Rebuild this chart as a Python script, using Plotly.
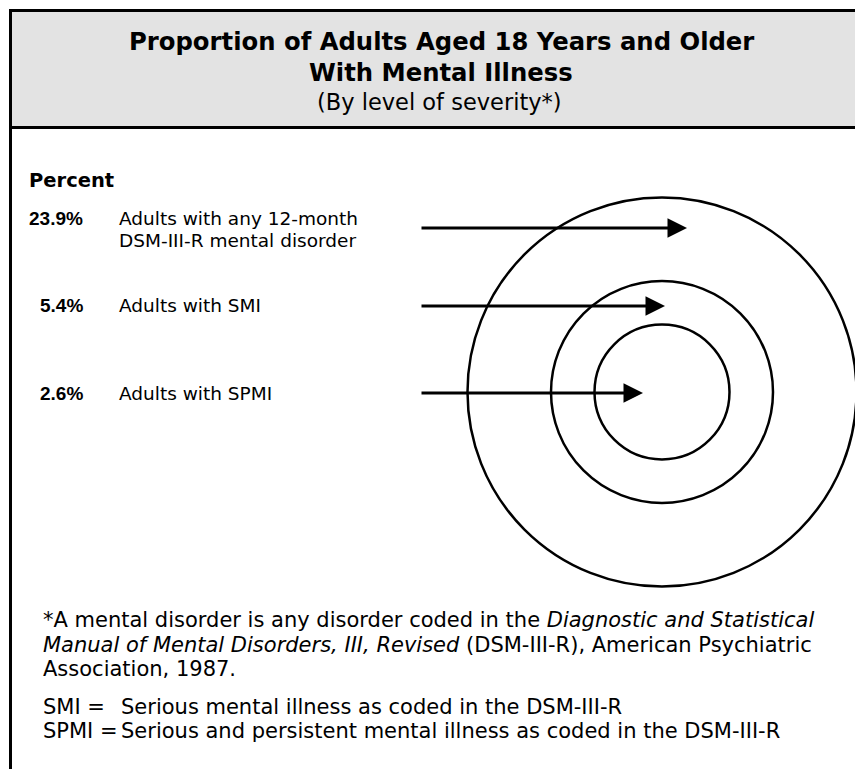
import plotly.graph_objects as go

# ---- data ----
title_lines = ["Proportion of Adults Aged 18 Years and Older", "With Mental Illness"]
subtitle = "(By level of severity*)"
percent_values = [23.9, 5.4, 2.6]
group_labels = [["Adults with any 12-month", "DSM-III-R mental disorder"],
                ["Adults with SMI"],
                ["Adults with SPMI"]]
footnote_lines = [
    "*A mental disorder is any disorder coded in the <i>Diagnostic and Statistical</i>",
    "<i>Manual of Mental Disorders, III, Revised</i> (DSM-III-R), American Psychiatric",
    "Association, 1987.",
]
abbrev_keys = ["SMI =", "SPMI ="]
abbrev_defs = ["Serious mental illness as coded in the DSM-III-R",
               "Serious and persistent mental illness as coded in the DSM-III-R"]

# ---- layout constants (page pixel coordinates) ----
PAGE_W, PAGE_H = 863, 769
OFF = 8  # default page body margin
FONT = "DejaVu Sans, Verdana, sans-serif"
FONT_NUM = "Liberation Sans, Arial, sans-serif"
cx, cy = 662, 392
ring_radii = [194.5, 111, 67.5]
row_y = [218, 305, 393]
arrow_y = [228, 306, 393]
arrow_tip = [687, 665, 643]
arrow_start = 420

fig = go.Figure()
shapes = []
ann = []

# header box and left frame line
shapes.append(dict(type="rect", x0=10.5, x1=PAGE_W + 10, y0=10.5, y1=127.5,
                   fillcolor="#e3e3e3", line=dict(color="black", width=3), layer="below"))
shapes.append(dict(type="line", x0=10.5, x1=10.5, y0=10.5, y1=PAGE_H + 10,
                   line=dict(color="black", width=3)))

title_y = [41, 72]
for i, t in enumerate(title_lines):
    ann.append(dict(x=441, y=title_y[i], text=f"<b>{t}</b>", showarrow=False,
                    xanchor="center", yanchor="middle",
                    font=dict(family=FONT, size=24.3, color="black")))
ann.append(dict(x=439, y=102, text=subtitle, showarrow=False, xanchor="center",
                yanchor="middle", font=dict(family=FONT, size=22.5, color="black")))

ann.append(dict(x=27, y=180, text="<b>Percent</b>", showarrow=False, xanchor="left",
                yanchor="middle", font=dict(family=FONT, size=19.5, color="black")))

for i, (p, lab) in enumerate(zip(percent_values, group_labels)):
    ann.append(dict(x=85, y=row_y[i], text=f"<b>{p:.1f}%</b>", showarrow=False,
                    xanchor="right", yanchor="middle",
                    font=dict(family=FONT_NUM, size=19, color="black")))
    for j, line in enumerate(lab):
        ann.append(dict(x=117, y=row_y[i] + 22 * j, text=line, showarrow=False,
                        xanchor="left", yanchor="middle",
                        font=dict(family=FONT, size=18.5, color="black")))
    ann.append(dict(x=arrow_tip[i], y=arrow_y[i], ax=arrow_start, ay=arrow_y[i],
                    xref="x", yref="y", axref="x", ayref="y", text="",
                    showarrow=True, arrowhead=2, arrowsize=1.3, arrowwidth=3,
                    arrowcolor="black"))

for r in ring_radii:
    shapes.append(dict(type="circle", x0=cx - r, x1=cx + r, y0=cy - r, y1=cy + r,
                       line=dict(color="black", width=2.5)))

foot_y = [620, 645, 669]
for i, line in enumerate(footnote_lines):
    ann.append(dict(x=41, y=foot_y[i], text=line, showarrow=False, xanchor="left",
                    yanchor="middle", font=dict(family=FONT, size=21, color="black")))
abbr_y = [707, 731]
for i, (k, d) in enumerate(zip(abbrev_keys, abbrev_defs)):
    ann.append(dict(x=41, y=abbr_y[i], text=k, showarrow=False, xanchor="left",
                    yanchor="middle", font=dict(family=FONT, size=21, color="black")))
    ann.append(dict(x=119, y=abbr_y[i], text=d, showarrow=False, xanchor="left",
                    yanchor="middle", font=dict(family=FONT, size=21, color="black")))

fig.update_layout(
    width=PAGE_W - OFF, height=PAGE_H - OFF, margin=dict(l=0, r=0, t=0, b=0),
    paper_bgcolor="white", plot_bgcolor="white",
    xaxis=dict(range=[OFF, PAGE_W], visible=False, fixedrange=True),
    yaxis=dict(range=[PAGE_H, OFF], visible=False, fixedrange=True),
    shapes=shapes, annotations=ann, showlegend=False,
)
fig.write_html("out.html", config={"displayModeBar": False})
